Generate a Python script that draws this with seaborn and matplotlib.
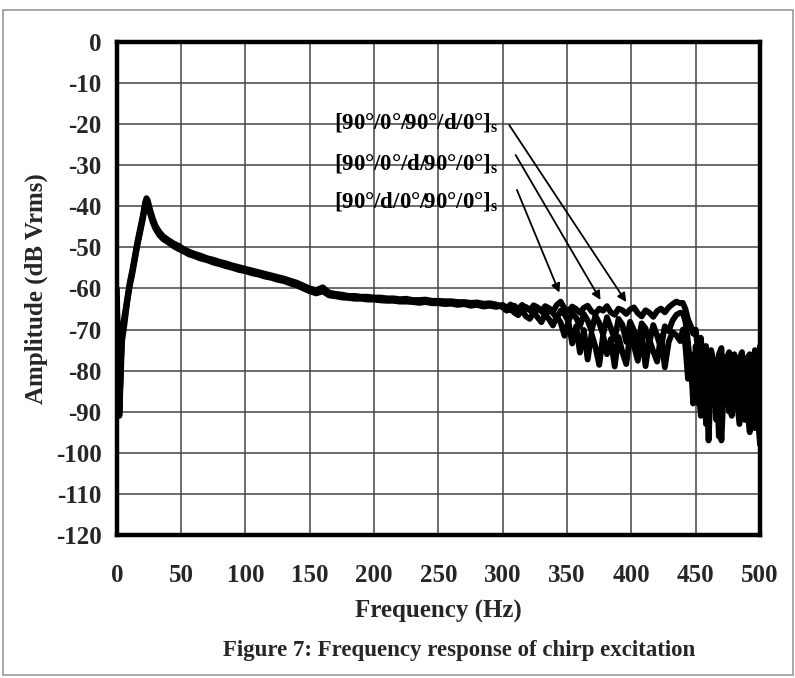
import matplotlib
matplotlib.use("Agg")
import matplotlib.pyplot as plt
import seaborn as sns
import pandas as pd

# ---------------- data ----------------
freq_front = [0, 1, 2, 3, 4, 6, 8, 10, 12, 14, 16, 18, 20, 22, 23, 24, 26, 28, 30,
              33, 36, 40, 44, 48, 52, 56, 60, 65, 70, 75, 80, 85, 90, 95, 100,
              105, 110, 115, 120, 125, 130, 135, 140, 145, 150, 155, 160, 165, 170,
              175, 180, 185, 190, 195, 200, 205, 210, 215, 220, 225, 230, 235, 240,
              245, 250, 255, 260, 265, 270, 275, 280, 285, 290, 295]
freq_tail = [300, 303, 306, 309, 312, 315, 318, 321, 324, 327, 330, 333, 336, 339,
             342, 345, 348, 351, 354, 357, 360, 363, 366, 369, 372, 375, 378, 381,
             384, 387, 390, 393, 396, 399, 402, 405, 408, 411, 414, 417, 420, 423,
             426, 429, 432, 435, 438, 440, 442, 444, 446, 448, 450, 452, 454, 456,
             458, 460, 462, 464, 466, 468, 470, 472, 474, 476, 478, 480, 482, 484,
             486, 488, 490, 492, 494, 496, 498, 500]

# [90/0/90/d/0]s
amp_a_front = [-62, -80, -90, -80, -71, -67.5, -63, -59, -56, -52.5, -49, -46, -43, -39.5, -38.5,
               -39, -41.5, -43.5, -45, -46.5, -47.5, -48.5, -49.3, -50, -50.7, -51.3, -51.8,
               -52.3, -52.8, -53.3, -53.8, -54.2, -54.7, -55.1, -55.5, -55.9, -56.3, -56.7,
               -57.1, -57.5, -57.9, -58.4, -58.9, -59.6, -60.3, -60.8, -60.2, -61.3, -61.6,
               -61.8, -62.0, -62.1, -62.2, -62.3, -62.4, -62.5, -62.7, -62.6, -62.9, -62.8,
               -63.0, -63.1, -62.9, -63.2, -63.3, -63.4, -63.3, -63.6, -63.5, -63.8, -63.7,
               -64.0, -63.9, -64.1]
amp_a_tail = [-64.2, -64.9, -63.9, -64.4, -65.1, -64.0, -64.7, -65.3, -64.1, -64.6,
              -65.4, -64.3, -64.8, -65.6, -64.0, -63.2, -64.9, -65.5, -64.4, -65.0,
              -65.9, -64.7, -64.2, -65.6, -66.1, -64.9, -65.4, -64.3, -65.8, -66.4,
              -64.9, -65.3, -66.2, -65.1, -64.6, -66.0, -66.8, -65.3, -65.9, -66.9,
              -65.5, -64.9, -65.8, -64.6, -63.8, -63.2, -63.6,
              -63.5, -65, -67.5, -69, -71, -70, -76, -72, -80, -74,
              -86, -75, -78, -92, -76, -74.5, -88, -77, -75.5, -83,
              -76, -89, -77, -75.5, -84, -77, -76, -90, -75, -82, -74]

# [90/0/d/90/0]s
amp_b_front = [-64, -83, -91, -82, -73, -68.5, -63.5, -59.5, -56.5, -53, -49.5, -46.5, -43.5, -40, -39,
               -39.5, -42, -44, -45.5, -47, -48, -48.8, -49.7, -50.4, -51.0, -51.7, -52.1,
               -52.7, -53.1, -53.7, -54.1, -54.6, -55.0, -55.5, -55.8, -56.3, -56.6, -57.1,
               -57.4, -57.9, -58.2, -58.8, -59.3, -60.0, -60.7, -61.2, -60.7, -61.7, -61.9,
               -62.2, -62.3, -62.5, -62.5, -62.7, -62.7, -62.9, -63.0, -63.0, -63.2, -63.2,
               -63.3, -63.5, -63.3, -63.6, -63.6, -63.8, -63.7, -64.0, -63.8, -64.2, -64.0,
               -64.4, -64.2, -64.5]
amp_b_tail = [-64.0, -64.6, -65.3, -64.2, -65.0, -65.8, -64.5, -65.2, -66.1, -64.9,
              -65.5, -66.6, -65.1, -66.0, -67.2, -65.4, -66.3, -68.0, -65.9, -67.1,
              -69.2, -66.2, -67.8, -70.3, -66.6, -68.4, -71.2, -67.0, -69.6, -72.4,
              -67.4, -68.8, -73.0, -68.1, -70.2, -74.1, -68.5, -69.7, -73.2, -68.9,
              -71.5, -74.5, -69.2, -70.4, -67.8, -66.4, -65.9,
              -66, -68, -73, -80, -84, -74, -88, -78, -76, -93,
              -79, -77, -85, -78, -96, -80, -77, -87, -80, -91,
              -78, -80, -88, -79, -92, -80, -78, -86, -94, -79, -77]

# [90/d/0/90/0]s
amp_c_front = [-60, -78, -89, -79, -70, -66.5, -62.5, -58.5, -55.5, -52, -48.5, -45.5, -42.5, -39, -38,
               -38.5, -41, -43, -44.7, -46.2, -47.3, -48.2, -49.0, -49.6, -50.4, -51.0, -51.5,
               -52.0, -52.6, -53.0, -53.5, -53.9, -54.4, -54.8, -55.2, -55.6, -56.0, -56.4,
               -56.8, -57.2, -57.6, -58.1, -58.6, -59.3, -60.0, -60.4, -59.7, -61.0, -61.3,
               -61.5, -61.8, -61.8, -62.0, -62.0, -62.2, -62.2, -62.4, -62.4, -62.6, -62.5,
               -62.8, -62.8, -62.7, -63.0, -63.0, -63.1, -63.1, -63.3, -63.3, -63.5, -63.4,
               -63.7, -63.6, -63.9]
amp_c_tail = [-64.6, -65.4, -64.8, -65.9, -66.5, -65.2, -66.8, -67.4, -65.8, -67.0,
              -68.2, -66.3, -67.5, -69.0, -66.8, -68.3, -71.5, -68.0, -73.4, -69.2,
              -75.6, -70.1, -77.3, -71.0, -74.2, -78.6, -71.4, -76.0, -72.3, -79.0,
              -71.8, -75.5, -78.4, -71.2, -74.0, -77.6, -70.8, -78.9, -72.5, -75.3,
              -77.8, -71.6, -79.2, -73.0, -70.6, -71.4, -72.8,
              -70, -74, -82, -76, -88, -80, -84, -91, -79, -82,
              -97, -82, -88, -80, -86, -97, -83, -80, -90, -84,
              -81, -87, -93, -82, -80, -89, -95, -82, -84, -90, -98]

laminates = ["[90°/0°/90°/d/0°]", "[90°/0°/d/90°/0°]", "[90°/d/0°/90°/0°]"]
label_y = [-21, -31, -40.3]          # baseline of each label (dB)
arrow_from = [(305, -20.2), (310, -27.5), (311, -36)]
arrow_to = [(396, -63.3), (376, -62.8), (344, -61)]

x_ticks = [0, 50, 100, 150, 200, 250, 300, 350, 400, 450, 500]
y_ticks = [0, -10, -20, -30, -40, -50, -60, -70, -80, -90, -100, -110, -120]

# ---------------- build long-form frame ----------------
freq = freq_front + freq_tail
rows = []
for name, fr, tl in zip(laminates,
                        [amp_a_front, amp_b_front, amp_c_front],
                        [amp_a_tail, amp_b_tail, amp_c_tail]):
    for f, a in zip(freq, fr + tl):
        rows.append({"Frequency": f, "Amplitude": a, "Laminate": name})
df = pd.DataFrame(rows)

# ---------------- style ----------------
sns.set_style("white")
plt.rcParams["font.family"] = ["Liberation Serif", "DejaVu Serif"]
plt.rcParams["font.weight"] = "bold"
plt.rcParams["axes.unicode_minus"] = False
plt.rcParams["mathtext.fontset"] = "custom"
plt.rcParams["mathtext.rm"] = "Liberation Serif:bold"
plt.rcParams["mathtext.it"] = "Liberation Serif:bold"
plt.rcParams["mathtext.bf"] = "Liberation Serif:bold"

fig = plt.figure(figsize=(7.95, 6.78), dpi=100)
ax = fig.add_axes([0.147, 0.211, 0.809, 0.727])

sns.lineplot(data=df, x="Frequency", y="Amplitude", hue="Laminate",
             palette=["black", "black", "black"], linewidth=4.2,
             legend=False, ax=ax, sort=False, estimator=None)

ax.set_xlim(0, 500)
ax.set_ylim(-120, 0)
ax.set_xticks(x_ticks)
ax.set_yticks(y_ticks)
ax.set_xticklabels([str(v) for v in x_ticks], fontsize=18, fontweight="bold")
ax.set_yticklabels([str(v) for v in y_ticks], fontsize=18, fontweight="bold")
ax.grid(True, color="#444444", linewidth=1.1)
ax.set_axisbelow(True)
for sp in ax.spines.values():
    sp.set_linewidth(3.2)
    sp.set_color("black")
ax.tick_params(axis="both", direction="out", length=5, width=1.2, color="#333333",
               pad=6)
ax.tick_params(axis="x", pad=16)

ax.set_xlabel("Frequency (Hz)", fontsize=18, fontweight="bold", labelpad=9)
ax.set_ylabel("Amplitude (dB Vrms)", fontsize=18, fontweight="bold", labelpad=6)

for name, ly, a0, a1 in zip(laminates, label_y, arrow_from, arrow_to):
    ax.text(297, ly, name + r"$_\mathregular{s}$", ha="right", va="baseline",
            fontsize=16.5, fontweight="bold", color="black")
    ax.annotate("", xy=a1, xytext=a0,
                arrowprops=dict(arrowstyle="-|>", color="black", lw=1.3,
                                mutation_scale=13, shrinkA=0, shrinkB=0))

fig.text(0.578, 0.040, "Figure 7: Frequency response of chirp excitation",
         ha="center", va="center", fontsize=16.5, fontweight="bold")

fig.patches.append(plt.Rectangle((0.004, 0.004), 0.993, 0.981, transform=fig.transFigure,
                                 fill=False, edgecolor="#999999", linewidth=1.2))

fig.savefig("out.png", dpi=100)
